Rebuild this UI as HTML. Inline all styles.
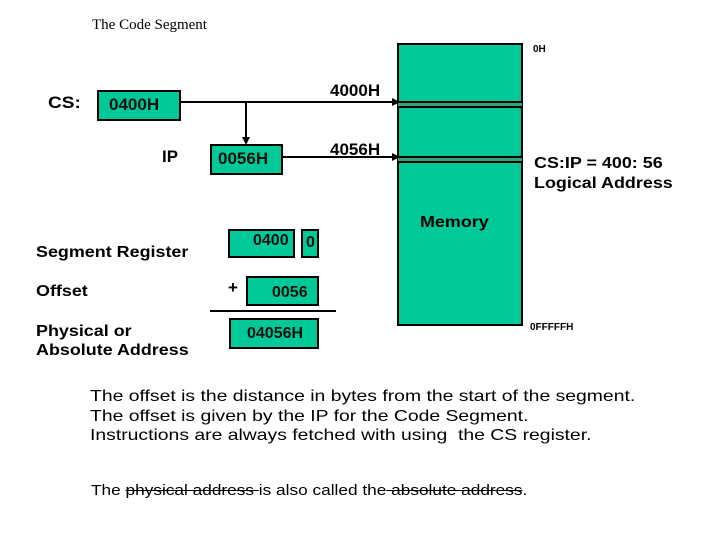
<!DOCTYPE html>
<html><head><style>
body{margin:0;width:720px;height:540px;background:#fff;position:relative;overflow:hidden;font-family:"Liberation Sans",sans-serif}
.a{position:absolute;white-space:nowrap}
.b{position:absolute;background:#00c896;border:2px solid #000;box-sizing:border-box;font-weight:bold;font-size:17px;color:#111}
.h{font-weight:bold}
.sx{transform-origin:0 0;transform:scaleX(1.12)}
</style></head><body>
<div class="a" style="left:92px;top:17px;font-family:'Liberation Serif',serif;font-size:15px">The Code Segment</div>
<div class="b" style="left:397px;top:43px;width:126px;height:283px"></div>
<div class="a" style="left:398px;top:101px;width:124px;height:7px;background:#2ea57e;border-top:2px solid #000;border-bottom:2px solid #000;box-sizing:border-box"></div>
<div class="a" style="left:398px;top:156px;width:124px;height:7px;background:#2ea57e;border-top:2px solid #000;border-bottom:2px solid #000;box-sizing:border-box"></div>
<div class="a h" style="left:533px;top:44px;font-size:10px">0H</div>
<div class="a h" style="left:530px;top:322px;font-size:10px">0FFFFFH</div>
<div class="a h sx" style="left:48px;top:93px;font-size:17px">CS:</div>
<div class="b" style="left:97px;top:90px;width:84px;height:31px;padding:3px 0 0 10px">0400H</div>
<div class="a h" style="left:162px;top:147px;font-size:17px">IP</div>
<div class="b" style="left:210px;top:144px;width:73px;height:31px;padding:3px 0 0 6px">0056H</div>
<div class="a h" style="left:330px;top:81px;font-size:17px">4000H</div>
<div class="a h" style="left:330px;top:140px;font-size:17px">4056H</div>
<svg class="a" style="left:0;top:0" width="720" height="540">
<line x1="181" y1="102" x2="393" y2="102" stroke="#000" stroke-width="2"/>
<polygon points="392,98 400,102 392,106" fill="#000"/>
<line x1="246" y1="102" x2="246" y2="139" stroke="#000" stroke-width="2"/>
<polygon points="242,137 246,145 250,137" fill="#000"/>
<line x1="283" y1="157" x2="393" y2="157" stroke="#000" stroke-width="2"/>
<polygon points="392,153 400,157 392,161" fill="#000"/>
<line x1="210" y1="311" x2="336" y2="311" stroke="#000" stroke-width="2"/>
</svg>
<div class="a h sx" style="left:534px;top:154px;font-size:16px;line-height:20px">CS:IP = 400: 56<br>Logical Address</div>
<div class="a h sx" style="left:420px;top:214px;font-size:16px">Memory</div>
<div class="a h sx" style="left:36px;top:244px;font-size:16px">Segment Register</div>
<div class="a h sx" style="left:36px;top:283px;font-size:16px">Offset</div>
<div class="a h sx" style="left:36px;top:322px;font-size:16px;line-height:19px">Physical or<br>Absolute Address</div>
<div class="b" style="left:228px;top:229px;width:67px;height:29px;padding:1px 0 0 23px;font-size:16px">0400</div>
<div class="b" style="left:301px;top:229px;width:18px;height:29px;padding:3px 0 0 3px;font-size:16px">0</div>
<div class="a h" style="left:228px;top:278px;font-size:17px">+</div>
<div class="b" style="left:246px;top:276px;width:73px;height:30px;padding:6px 0 0 24px;font-size:16px">0056</div>
<div class="b" style="left:229px;top:318px;width:90px;height:31px;padding:5px 0 0 16px;font-size:16px">04056H</div>
<div class="a" style="left:90px;top:387px;font-size:16px;line-height:19.5px;transform-origin:0 0;transform:scaleX(1.21)">The offset is the distance in bytes from the start of the segment.<br>The offset is given by the IP for the Code Segment.<br>Instructions are always fetched with using&nbsp; the CS register.</div>
<div class="a" style="left:91px;top:482px;font-size:15px;transform-origin:0 0;transform:scaleX(1.15)">The <s>physical address </s>is also called the<s> absolute address</s>.</div>
</body></html>
